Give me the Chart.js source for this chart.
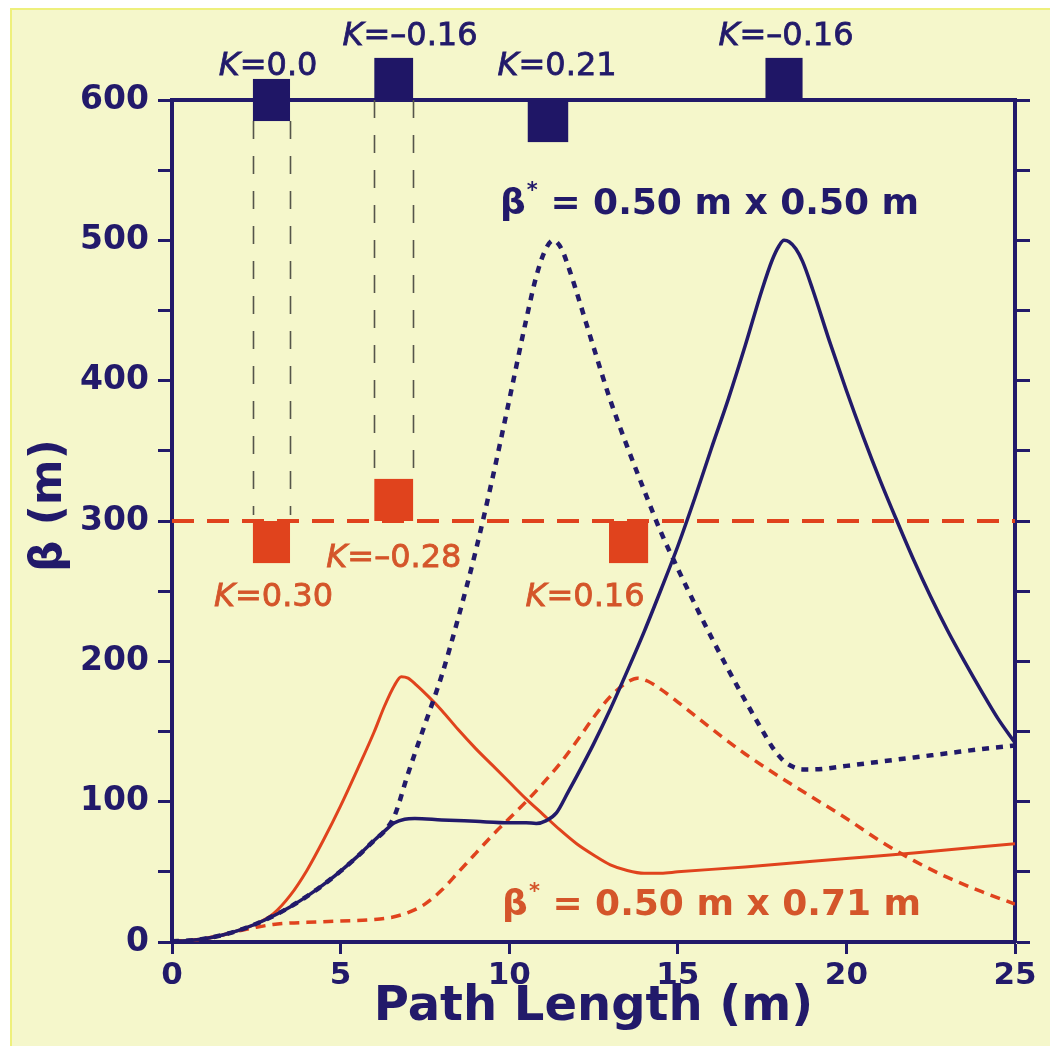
<!DOCTYPE html>
<html>
<head>
<meta charset="utf-8">
<script src="https://cdn.jsdelivr.net/npm/chart.js@4.4.1/dist/chart.umd.min.js"></script>
<style>
  html, body { margin: 0; padding: 0; background: #fff; }
  #wrap { position: absolute; left: 0; top: 0; width: 1050px; height: 1046px; }
</style>
</head>
<body>
<div id="wrap"><canvas id="chart" width="1050" height="1046"></canvas></div>
<script>
// beta functions (s in m, beta in m)
const sNavySolid = [0, 0.5, 1, 1.5, 2, 2.5, 3, 3.5, 4, 4.5, 5, 5.5, 6, 6.3, 6.6, 6.9, 7.2, 8, 9, 10, 10.5, 10.8, 11.1, 11.4, 11.75, 12, 12.5, 13, 13.5, 14, 14.5, 15, 15.5, 16, 16.5, 17, 17.5, 17.8, 18.0, 18.15, 18.3, 18.5, 18.7, 19, 19.5, 20, 20.5, 21, 21.5, 22, 22.5, 23, 23.5, 24, 24.5, 25];
const betaNavySolid = [0.5, 1, 2.5, 5, 8.5, 13, 18.5, 25, 32.5, 41, 50.5, 61, 72.5, 79, 85, 87.5, 88, 87, 86, 85, 85, 84.5, 86.5, 92, 107, 118, 141, 166, 193, 221, 251, 282, 316, 352, 387, 425, 465, 486, 496, 500, 499, 494, 485, 465, 428, 393, 360, 329, 300, 272, 246, 222, 200, 179, 159, 142];

const sNavyDotted = [0, 0.5, 1, 1.5, 2, 2.5, 3, 3.5, 4, 4.5, 5, 5.5, 6, 6.3, 6.6, 7, 7.5, 8, 8.5, 9, 9.5, 10, 10.5, 10.8, 11.05, 11.3, 11.55, 11.8, 12, 12.5, 13, 13.5, 14, 14.5, 15, 15.5, 16, 16.5, 17, 17.5, 17.8, 18.1, 18.4, 18.7, 19, 20, 21, 22, 23, 24, 25];
const betaNavyDotted = [0.5, 1, 2.5, 5, 8.5, 13, 18.5, 25, 32.5, 41, 50.5, 61, 72.5, 79, 90, 120, 155, 190, 232, 278, 330, 386, 443, 474, 492, 500, 494, 478, 463, 424, 386, 353, 322, 292, 266, 241, 217, 194, 172, 151, 139, 130, 125, 123, 123, 125.5, 128.5, 131.5, 134.5, 137.5, 140];

const sRedSolid = [0, 0.5, 1, 1.5, 2, 2.5, 3, 3.5, 4, 4.5, 5, 5.5, 6, 6.3, 6.6, 6.8, 7.0, 7.25, 7.6, 8, 8.5, 9, 9.5, 10, 10.5, 11, 11.5, 12, 12.5, 13, 13.5, 14, 14.5, 15, 17, 20, 22, 25];
const betaRedSolid = [0.5, 1, 2.5, 5, 8.5, 13, 20, 33, 51, 73, 97, 123, 150, 168, 183, 189, 188, 183, 175, 165, 151, 138, 126, 114, 102, 91, 80, 70, 62, 55, 51, 49, 49, 50, 53.5, 59.5, 63.5, 70];

const sRedDashed = [0, 0.5, 1, 1.5, 2, 2.5, 3, 3.5, 4, 5, 6, 6.5, 7, 7.5, 8, 8.5, 9, 9.5, 10, 10.5, 11, 11.5, 12, 12.5, 13, 13.5, 13.8, 14.1, 14.5, 15, 16, 17, 18, 19, 20, 21, 22, 23, 24, 25];
const betaRedDashed = [0.5, 1, 2.5, 5, 8, 10.5, 12.5, 13.5, 14, 15, 16, 17.5, 21, 27, 37, 50, 63, 76, 88, 100, 113, 127, 143, 160, 175, 185, 188, 186, 180, 171, 152, 134, 118, 103, 88, 72, 58, 46, 36, 27];

// quadrupoles: top row (navy, on beta = 600), bottom row (red, on beta = 300)
const topQuadStart = [2.4, 6.0, 10.55, 17.6];
const topQuadEnd = [3.5, 7.15, 11.75, 18.7];
const topQuadK = [0.0, -0.16, 0.21, -0.16];
const topQuadLabel = ["0.0", "\u20130.16", "0.21", "\u20130.16"];
const botQuadStart = [2.4, 6.0, 12.96];
const botQuadEnd = [3.5, 7.15, 14.12];
const botQuadK = [0.30, -0.28, 0.16];
const botQuadLabel = ["0.30", "\u20130.28", "0.16"];

const xTicks = [0, 5, 10, 15, 20, 25];
const yTicks = [0, 100, 200, 300, 400, 500, 600];

const NAVY = "#221a6a";
const RED = "#e0431d";
const RED_TEXT = "#d4552a";

// where the annotations sit (data units)
const topLabelS = [2.85, 7.06, 11.42, 18.21];
const topLabelBeta = [618, 639, 618, 639];
const botLabelS = [3.01, 6.58, 12.25];
const botLabelBeta = [239.5, 267, 239.5];
const quadHeight = 30;

function pts(xs, ys) {
  return xs.map((x, i) => ({ x: x, y: ys[i] }));
}

function drawK(ctx, label, cx, baseY, color) {
  ctx.font = 'italic 32px "DejaVu Sans"';
  const wK = ctx.measureText("K").width;
  ctx.font = '32px "DejaVu Sans"';
  const rest = "=" + label;
  const wR = ctx.measureText(rest).width;
  const x0 = cx - (wK + wR) / 2;
  ctx.fillStyle = color;
  ctx.strokeStyle = color;
  ctx.lineWidth = 0.8;
  ctx.setLineDash([]);
  ctx.textAlign = "left";
  ctx.textBaseline = "alphabetic";
  ctx.font = 'italic 32px "DejaVu Sans"';
  ctx.fillText("K", x0, baseY);
  ctx.strokeText("K", x0, baseY);
  ctx.font = '32px "DejaVu Sans"';
  ctx.fillText(rest, x0 + wK, baseY);
  ctx.strokeText(rest, x0 + wK, baseY);
}

function drawBetaStar(ctx, text, x, baseY, color) {
  ctx.fillStyle = color;
  ctx.textAlign = "left";
  ctx.textBaseline = "alphabetic";
  ctx.font = 'bold 36px "DejaVu Sans"';
  ctx.fillText("\u03b2", x, baseY);
  let w = ctx.measureText("\u03b2").width;
  ctx.font = 'bold 21px "DejaVu Sans"';
  ctx.fillText("*", x + w + 1, baseY - 17);
  w += ctx.measureText("*").width + 1;
  ctx.font = 'bold 36px "DejaVu Sans"';
  ctx.fillText(text, x + w, baseY);
}

const background = {
  id: "background",
  beforeDraw(chart) {
    const ctx = chart.ctx;
    ctx.save();
    ctx.fillStyle = "#ffffff";
    ctx.fillRect(0, 0, chart.width, chart.height);
    ctx.fillStyle = "#f5f7cb";
    ctx.fillRect(11, 9, chart.width - 11, chart.height - 9);
    ctx.strokeStyle = "#eef07c";
    ctx.lineWidth = 2;
    ctx.beginPath();
    ctx.moveTo(11, chart.height);
    ctx.lineTo(11, 9);
    ctx.lineTo(chart.width, 9);
    ctx.stroke();
    ctx.restore();
  }
};

const lattice = {
  id: "lattice",
  beforeDatasetsDraw(chart) {
    const ctx = chart.ctx;
    const xs = chart.scales.x, ys = chart.scales.y;
    ctx.save();
    // thin dashed guides linking the two rows of magnets
    ctx.strokeStyle = "#55554a";
    ctx.lineWidth = 1.6;
    ctx.setLineDash([18, 17]);
    for (let i = 0; i < botQuadStart.length; i++) {
      if (botQuadStart[i] !== topQuadStart[i]) continue;
      const yTop = ys.getPixelForValue(topQuadK[i] === 0 ? 600 - quadHeight / 2 : 600);
      const yBot = ys.getPixelForValue(botQuadK[i] < 0 ? 300 + quadHeight : 300);
      [botQuadStart[i], botQuadEnd[i]].forEach(s => {
        const px = Math.round(xs.getPixelForValue(s)) + 0.5;
        ctx.beginPath();
        ctx.moveTo(px, yTop);
        ctx.lineTo(px, yBot - 6);
        ctx.stroke();
      });
    }
    ctx.restore();
  },
  afterDatasetsDraw(chart) {
    const ctx = chart.ctx;
    const xs = chart.scales.x, ys = chart.scales.y;
    ctx.save();
    function quad(s0, s1, k, base, color) {
      let lo, hi;
      if (k === 0) { lo = base - quadHeight / 2; hi = base + quadHeight / 2; }
      else if (k > 0) { lo = base - quadHeight; hi = base; }
      else { lo = base; hi = base + quadHeight; }
      const x0 = xs.getPixelForValue(s0), x1 = xs.getPixelForValue(s1);
      const y0 = ys.getPixelForValue(hi), y1 = ys.getPixelForValue(lo);
      ctx.fillStyle = color;
      ctx.fillRect(x0, y0, x1 - x0, y1 - y0);
    }
    topQuadStart.forEach((s, i) => quad(s, topQuadEnd[i], topQuadK[i], 600, "#1f1666"));
    botQuadStart.forEach((s, i) => quad(s, botQuadEnd[i], botQuadK[i], 300, RED));

    topQuadLabel.forEach((t, i) => drawK(ctx, t, xs.getPixelForValue(topLabelS[i]), ys.getPixelForValue(topLabelBeta[i]), NAVY));
    botQuadLabel.forEach((t, i) => drawK(ctx, t, xs.getPixelForValue(botLabelS[i]), ys.getPixelForValue(botLabelBeta[i]), RED_TEXT));

    drawBetaStar(ctx, " = 0.50 m x 0.50 m", xs.getPixelForValue(9.73), ys.getPixelForValue(518.8), NAVY);
    drawBetaStar(ctx, " = 0.50 m x 0.71 m", xs.getPixelForValue(9.79), ys.getPixelForValue(19.2), RED_TEXT);
    ctx.restore();
  }
};

Chart.defaults.font.family = '"DejaVu Sans"';
Chart.defaults.color = NAVY;

const tickGrid = (len) => ({
  drawOnChartArea: false,
  drawTicks: true,
  tickLength: len,
  tickWidth: 3,
  tickColor: NAVY
});

new Chart(document.getElementById("chart"), {
  type: "line",
  data: {
    datasets: [
      {
        label: "beta solid",
        data: pts(sNavySolid, betaNavySolid),
        borderColor: NAVY,
        borderWidth: 3.5,
        cubicInterpolationMode: "monotone"
      },
      {
        label: "beta dotted",
        data: pts(sNavyDotted, betaNavyDotted),
        borderColor: NAVY,
        borderWidth: 4.5,
        borderDash: [7, 7],
        cubicInterpolationMode: "monotone"
      },
      {
        label: "beta red solid",
        data: pts(sRedSolid, betaRedSolid),
        borderColor: RED,
        borderWidth: 3,
        cubicInterpolationMode: "monotone"
      },
      {
        label: "beta red dashed",
        data: pts(sRedDashed, betaRedDashed),
        borderColor: RED,
        borderWidth: 3.5,
        borderDash: [10, 7],
        cubicInterpolationMode: "monotone"
      },
      {
        label: "magnet axis",
        data: [{ x: 0, y: 300 }, { x: 25, y: 300 }],
        borderColor: RED,
        borderWidth: 4,
        borderDash: [22, 13]
      }
    ]
  },
  options: {
    responsive: false,
    devicePixelRatio: 1,
    animation: false,
    layout: { padding: { top: 100, left: 0, right: 0, bottom: 0 } },
    elements: { point: { radius: 0 }, line: { borderCapStyle: "butt" } },
    plugins: { legend: { display: false }, tooltip: { enabled: false } },
    scales: {
      x: {
        type: "linear",
        position: "bottom",
        min: 0,
        max: 25,
        afterBuildTicks: s => { s.ticks = xTicks.map(v => ({ value: v })); },
        ticks: { color: NAVY, font: { size: 31, weight: "bold" }, padding: 3, maxRotation: 0 },
        grid: tickGrid(12),
        border: { color: NAVY, width: 4 },
        title: {
          display: true,
          text: "Path Length (m)",
          color: NAVY,
          font: { size: 48, weight: "bold" },
          padding: { top: 0, bottom: 10 }
        },
        afterFit: s => { s.height = 104; }
      },
      x2: {
        type: "linear",
        position: "top",
        min: 0,
        max: 25,
        ticks: { display: false },
        grid: { drawOnChartArea: false, drawTicks: false },
        border: { color: NAVY, width: 4 },
        afterFit: s => { s.height = 0; }
      },
      y: {
        position: "left",
        min: 0,
        max: 600,
        ticks: {
          stepSize: 50,
          color: NAVY,
          font: { size: 33, weight: "bold" },
          padding: 9,
          callback: v => (yTicks.includes(v) ? String(v) : "")
        },
        grid: tickGrid(14),
        border: { color: NAVY, width: 4 },
        title: {
          display: true,
          text: "  \u03b2 (m)",
          color: NAVY,
          font: { size: 44, weight: "bold" },
          padding: { top: 23, bottom: 0 }
        },
        afterFit: s => { s.width = 172; }
      },
      y2: {
        position: "right",
        min: 0,
        max: 600,
        ticks: { stepSize: 50, display: false },
        grid: tickGrid(15),
        border: { color: NAVY, width: 4 },
        afterFit: s => { s.width = 35; }
      }
    }
  },
  plugins: [background, lattice]
});
</script>
</body>
</html>
